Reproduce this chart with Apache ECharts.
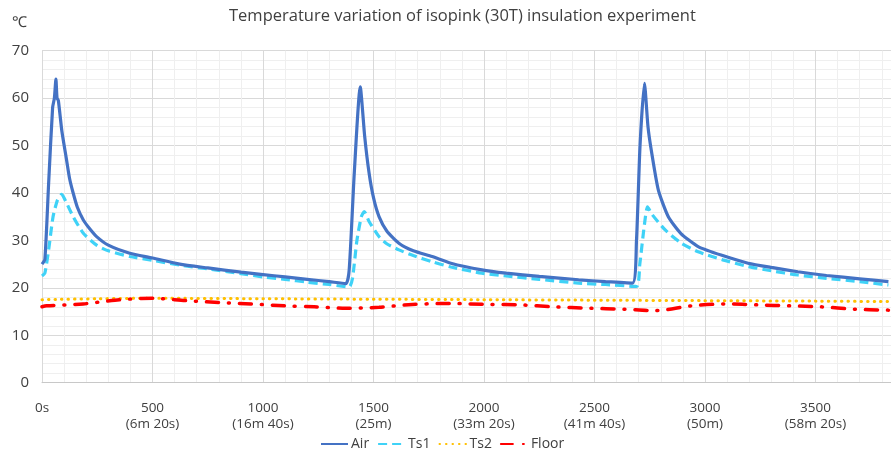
<!DOCTYPE html>
<html>
<head>
<meta charset="utf-8">
<script src="https://cdn.jsdelivr.net/npm/echarts@6/dist/echarts.min.js"></script>
<style>
html,body{margin:0;padding:0;background:#fff;overflow:hidden;width:891px;height:452px;}
#chart{width:929px;height:452px;}
</style>
</head>
<body>
<div id="chart"></div>
<script>
// ---- data (time in seconds, temperature in °C) ----
const titleText = 'Temperature variation of isopink (30T) insulation experiment';
const unitText = '℃';
const seriesNames = ['Air', 'Ts1', 'Ts2', 'Floor'];

const xTickValues = [0, 500, 1000, 1500, 2000, 2500, 3000, 3500];
const xTickLabels = ['0s', '500\n(6m 20s)', '1000\n(16m 40s)', '1500\n(25m)', '2000\n(33m 20s)', '2500\n(41m 40s)', '3000\n(50m)', '3500\n(58m 20s)'];

const airTime = [0, 13, 30, 48, 56, 63, 68, 74, 90, 111, 125, 141, 160, 187, 215, 247, 300, 397, 500, 623, 750, 900, 1000, 1100, 1200, 1300, 1375, 1390, 1413, 1440, 1460, 1480, 1500, 1525, 1560, 1615, 1680, 1765, 1850, 1990, 2100, 2250, 2428, 2550, 2672, 2690, 2706, 2726, 2742, 2757, 2789, 2834, 2890, 2969, 3080, 3195, 3300, 3420, 3550, 3700, 3830];
const airTemp = [25.0, 26.0, 42.0, 58.0, 60.0, 64.0, 60.0, 59.5, 53.0, 47.0, 43.0, 40.0, 37.0, 34.3, 32.5, 30.8, 29.0, 27.3, 26.3, 25.0, 24.2, 23.3, 22.8, 22.3, 21.8, 21.3, 20.9, 23.8, 44.2, 62.4, 52.0, 44.2, 39.0, 35.0, 32.0, 29.4, 27.8, 26.6, 25.2, 23.8, 23.1, 22.4, 21.7, 21.3, 21.0, 30.0, 50.0, 63.1, 54.0, 49.0, 40.6, 35.0, 31.5, 28.7, 26.8, 25.2, 24.3, 23.4, 22.6, 21.9, 21.3];

const ts1Time = [0, 13, 30, 50, 70, 89, 110, 141, 187, 247, 300, 397, 500, 623, 750, 900, 1000, 1100, 1200, 1300, 1390, 1405, 1425, 1445, 1458, 1480, 1525, 1560, 1615, 1680, 1765, 1850, 1990, 2100, 2250, 2428, 2550, 2690, 2705, 2725, 2740, 2760, 2820, 2890, 2969, 3080, 3195, 3300, 3420, 3550, 3700, 3830];
const ts1Temp = [22.5, 23.1, 28.0, 35.0, 38.5, 39.7, 38.0, 35.0, 31.5, 29.0, 27.8, 26.6, 25.8, 24.8, 24.0, 23.0, 22.3, 21.8, 21.2, 20.7, 20.2, 22.0, 30.0, 35.0, 36.1, 34.0, 30.8, 29.3, 28.0, 26.8, 25.5, 24.4, 23.1, 22.5, 21.8, 21.0, 20.7, 20.3, 25.0, 33.0, 37.1, 35.5, 32.2, 29.5, 27.6, 25.9, 24.5, 23.6, 22.7, 22.0, 21.3, 20.6];

const ts2Time = [0, 250, 500, 1000, 1500, 2000, 2500, 3000, 3500, 3830];
const ts2Temp = [17.5, 17.7, 17.8, 17.7, 17.6, 17.5, 17.4, 17.3, 17.2, 17.1];

const floorTime = [0, 21, 186, 330, 500, 653, 803, 948, 1097, 1232, 1375, 1525, 1675, 1850, 2022, 2166, 2315, 2473, 2631, 2775, 2938, 3096, 3240, 3384, 3524, 3677, 3830];
const floorTemp = [16.0, 16.2, 16.6, 17.4, 17.8, 17.3, 16.9, 16.6, 16.2, 16.0, 15.7, 15.9, 16.5, 16.7, 16.5, 16.4, 16.0, 15.7, 15.5, 15.2, 16.2, 16.6, 16.4, 16.2, 16.0, 15.5, 15.3];

// ---- chart ----
const pair = (ts, vs) => ts.map((t, i) => [t, vs[i]]);
const FONT = '"Open Sans", "Noto Sans", sans-serif';
const chart = echarts.init(document.getElementById('chart'), null, {renderer: 'canvas'});

chart.setOption({
  animation: false,
  backgroundColor: '#ffffff',
  title: [
    {text: titleText, left: 224, top: 3,
     textStyle: {fontFamily: FONT, fontSize: 16.5, fontWeight: 'normal', color: '#404040'}},
    {text: unitText, left: 7, top: 10,
     textStyle: {fontFamily: FONT, fontSize: 15, fontWeight: 'normal', color: '#404040'}}
  ],
  legend: {
    top: 432, left: 315,
    itemWidth: 27, itemHeight: 12, itemGap: 8,
    itemStyle: {opacity: 0},
    textStyle: {fontFamily: FONT, fontSize: 14, color: '#404040', padding: [0, 0, 0, -2]},
    data: seriesNames
  },
  grid: {left: 42, right: 0, top: 50.7, bottom: 69.3, containLabel: false},
  xAxis: {
    type: 'value', min: 0, max: 4000, interval: 500,
    axisLine: {show: true, onZero: false, lineStyle: {color: '#c8c8c8', width: 1}},
    axisTick: {show: false},
    axisLabel: {
      margin: 17, fontFamily: FONT, fontSize: 13.5, color: '#404040', lineHeight: 16,
      formatter: v => { const i = xTickValues.indexOf(v); return i >= 0 ? xTickLabels[i] : ''; }
    },
    splitLine: {show: true, lineStyle: {color: '#d9d9d9', width: 1}},
    minorTick: {show: false, splitNumber: 5},
    minorSplitLine: {show: true, lineStyle: {color: '#efefef', width: 1}}
  },
  yAxis: {
    type: 'value', min: 0, max: 70, interval: 10,
    axisLine: {show: true, lineStyle: {color: '#d9d9d9', width: 1}},
    axisTick: {show: false},
    axisLabel: {margin: 13, fontFamily: FONT, fontSize: 15, color: '#404040'},
    splitLine: {show: true, lineStyle: {color: '#d9d9d9', width: 1}},
    minorTick: {show: false, splitNumber: 5},
    minorSplitLine: {show: true, lineStyle: {color: '#efefef', width: 1}}
  },
  series: [
    {name: seriesNames[0], type: 'line', symbol: 'none', smooth: 0.2, z: 5,
     data: pair(airTime, airTemp),
     itemStyle: {color: '#4472c4'},
     lineStyle: {color: '#4472c4', width: 3.2, type: 'solid'}},
    {name: seriesNames[1], type: 'line', symbol: 'none', smooth: 0.2, z: 4,
     data: pair(ts1Time, ts1Temp),
     itemStyle: {color: '#3fd2f7'},
     lineStyle: {color: '#3fd2f7', width: 3.2, type: [9, 5]}},
    {name: seriesNames[2], type: 'line', symbol: 'none', smooth: 0.3, z: 3,
     data: pair(ts2Time, ts2Temp),
     itemStyle: {color: '#ffc000'},
     lineStyle: {color: '#ffc000', width: 3, type: [0.5, 6], cap: 'round'}},
    {name: seriesNames[3], type: 'line', symbol: 'none', smooth: 0.3, z: 3,
     data: pair(floorTime, floorTemp),
     itemStyle: {color: '#ff0000'},
     lineStyle: {color: '#ff0000', width: 3.5, type: [12, 10, 1, 10], cap: 'round'}}
  ]
});
</script>
</body>
</html>
